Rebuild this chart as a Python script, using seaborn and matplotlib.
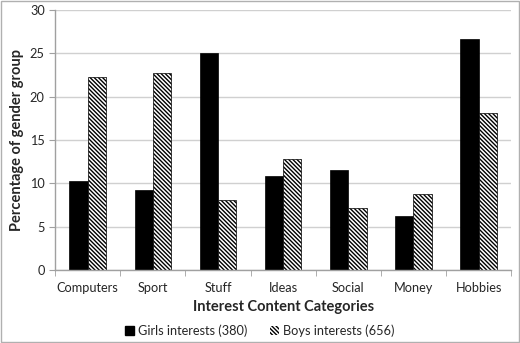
import pandas as pd
import seaborn as sns
import matplotlib.pyplot as plt
from matplotlib.patches import Patch, Rectangle

# Values
categories = ['Computers', 'Sport', 'Stuff', 'Ideas', 'Social', 'Money', 'Hobbies']
girls = [10.3, 9.2, 25.0, 10.8, 11.5, 6.2, 26.7]
boys = [22.3, 22.7, 8.1, 12.8, 7.2, 8.8, 18.1]
series_names = ['Girls interests (380)', 'Boys interests (656)']
y_ticks = [0, 5, 10, 15, 20, 25, 30]

df = pd.DataFrame({
    'Category': categories * 2,
    'Value': girls + boys,
    'Group': [series_names[0]] * len(categories) + [series_names[1]] * len(categories),
})

sns.set_style('white')
plt.rcParams['font.family'] = ['Lato', 'DejaVu Sans']
plt.rcParams['hatch.linewidth'] = 1.0

hatch = '\\' * 8

fig = plt.figure(figsize=(5.2, 3.43), dpi=100)
ax = fig.add_axes([0.106, 0.213, 0.877, 0.758])

sns.barplot(data=df, x='Category', y='Value', hue='Group', ax=ax,
            palette=['black', 'white'], width=0.56, edgecolor='black',
            linewidth=0.5, saturation=1, legend=False)

# Hatch the boys bars
for bar in ax.containers[1]:
    bar.set_hatch(hatch)
    bar.set_edgecolor('black')

ax.set_ylim(0, 30)
ax.set_yticks(y_ticks)
ax.set_xlim(-0.5, len(categories) - 0.5)
ax.yaxis.grid(True, color='#d0d0d0', linewidth=1.0)
ax.set_axisbelow(True)

for side in ['top', 'right']:
    ax.spines[side].set_visible(False)
for side in ['left', 'bottom']:
    ax.spines[side].set_color('#a0a0a0')
    ax.spines[side].set_linewidth(1.0)

# Category separators on the x-axis like Excel
ax.set_xticks([i + 0.5 for i in range(-1, len(categories))], minor=True)
ax.tick_params(axis='x', which='minor', length=4, color='#a0a0a0', bottom=True)
ax.tick_params(axis='x', which='major', length=0, labelsize=9.2, pad=9)
ax.tick_params(axis='y', length=4, color='#a0a0a0', left=True, labelsize=9.2)

ax.set_xlabel('Interest Content Categories', fontsize=10.5, fontweight='bold', labelpad=4)
ax.set_ylabel('Percentage of gender group', fontsize=10.5, fontweight='bold', labelpad=4)

handles = [
    Patch(facecolor='black', edgecolor='black', label=series_names[0]),
    Patch(facecolor='white', edgecolor='black', linewidth=0, hatch=hatch, label=series_names[1]),
]
fig.legend(handles=handles, loc='center', bbox_to_anchor=(0.5, 0.037), ncol=2,
           frameon=False, fontsize=9.2, handlelength=0.7, handleheight=0.7,
           handletextpad=0.3, columnspacing=1.8)

# Light grey frame around the whole image
fig.patches.append(Rectangle((0.002, 0.003), 0.996, 0.994, transform=fig.transFigure,
                             fill=False, edgecolor='#b0b0b0', linewidth=1.0))

fig.savefig('out.png', dpi=100)
